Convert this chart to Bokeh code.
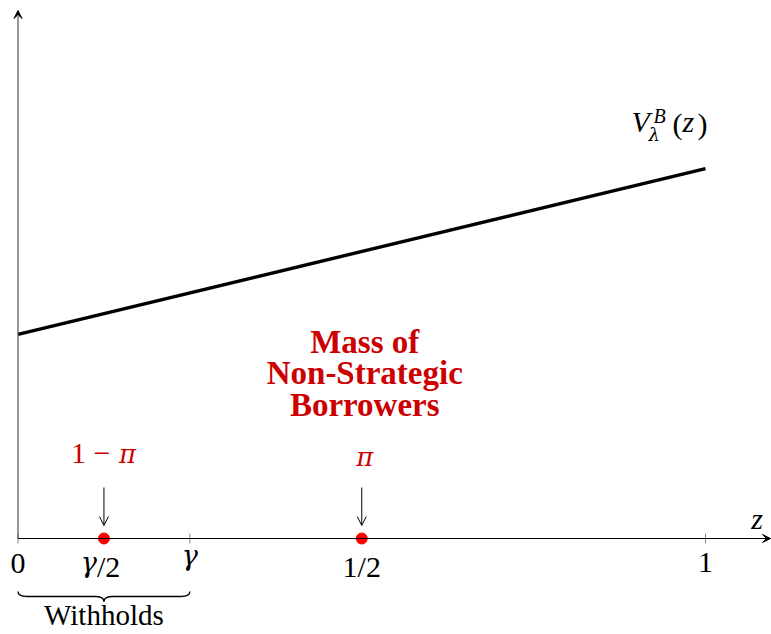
from bokeh.plotting import figure
from bokeh.models import Range1d, Arrow, VeeHead, OpenHead
from bokeh.core.properties import value
from bokeh.embed import file_html
from bokeh.resources import INLINE

# Value function V_lambda^B(z): a straight line over z in [0, 1]
z_line = [0.0, 1.0]
v_line = [0.297, 0.538]

# Positions on the z axis
gamma = 0.25
tick_pos = [0.0, gamma / 2, gamma, 0.5, 1.0]
major_ticks = [0.0, gamma, 1.0]

# Masses of non-strategic borrowers and where they sit
mass_pos = [gamma / 2, 0.5]
mass_zero = [0.0, 0.0]

U = 687.5          # pixels per unit, both directions
X0, Y0 = 17.5, 538.0
W, H = 771, 634

SERIF = value("Liberation Serif")
GREEK = value("DejaVu Serif")
RED_TXT = "#cc0000"

p = figure(width=W, height=H, output_backend="svg", toolbar_location=None,
           x_range=Range1d(-X0 / U, (W - X0) / U),
           y_range=Range1d(-(H - Y0) / U, Y0 / U),
           min_border=0, min_border_left=0, min_border_right=0,
           min_border_top=0, min_border_bottom=0)
p.axis.visible = False
p.grid.visible = False
p.outline_line_color = None
p.background_fill_color = "white"
p.border_fill_color = "white"

# axes with arrow tips
p.add_layout(Arrow(x_start=0, y_start=0, x_end=(W - X0 - 1) / U, y_end=0,
                   line_color="black", line_width=1,
                   end=VeeHead(size=8, fill_color="black", line_color="black", line_width=1)))
p.add_layout(Arrow(x_start=0, y_start=0, x_end=0, y_end=(Y0 - 10) / U,
                   line_color="#555555", line_width=1.2,
                   end=VeeHead(size=8, fill_color="black", line_color="black", line_width=1)))

# small tick marks
p.scatter(major_ticks, [0] * len(major_ticks), marker="dash", size=10, angle=1.5708,
          line_color="#888888", line_width=1)

# the value function
p.line(z_line, v_line, line_color="black", line_width=3.4)

# red dots for the masses
p.scatter(mass_pos, mass_zero, size=11, color="#ff0000")

# arrows pointing to the masses
for xm in mass_pos:
    p.add_layout(Arrow(x_start=xm, y_start=51 / U, x_end=xm, y_end=13 / U,
                       line_color="black", line_width=1,
                       end=OpenHead(size=9, line_color="black", line_width=1)))


def txt(x, y, s, size, dx=0, dy=0, color="black", style="normal", align="center",
        font=SERIF):
    # dy is the wanted baseline offset in pixels (downwards)
    p.text(x=[x], y=[y], text=[s], x_offset=dx, y_offset=dy - 0.32 * size,
           text_font=font, text_font_size=f"{size}px", text_font_style=style,
           text_color=color, text_align=align, text_baseline="alphabetic")


# tick labels
txt(tick_pos[0], 0, "0", 30, dy=35)
txt(tick_pos[1], 0, "γ", 27, dx=-7, dy=33, style="italic", align="right", font=GREEK)
txt(tick_pos[1], 0, "/2", 30, dx=-7, dy=38, align="left")
txt(tick_pos[2], 0, "γ", 27, dy=26, style="italic", font=GREEK)
txt(tick_pos[3], 0, "1/2", 30, dy=38)
txt(tick_pos[4], 0, "1", 30, dy=34)
txt(1.075, 0, "z", 30, dy=-10, style="italic")

# brace under [0, gamma] with its label
yt, h, r = -53 / U, 10 / U, 9 / U
xm = gamma / 2
x0b, x1b = 0.0, gamma
p.quadratic(x0=[x0b, xm, xm, x1b], y0=[yt, yt - h, yt - h, yt],
            x1=[x0b + r, xm - r, xm + r, x1b - r], y1=[yt - h / 2] * 4,
            cx=[x0b, xm, xm, x1b], cy=[yt - h / 2] * 4,
            line_color="black", line_width=1.4)
p.segment(x0=[x0b + r, xm + r], y0=[yt - h / 2] * 2,
          x1=[xm - r, x1b - r], y1=[yt - h / 2] * 2,
          line_color="black", line_width=1.4)
txt(xm, 0, "Withholds", 29, dy=86)

# labels of the masses
txt(mass_pos[0], 0, "1 − ", 30, dx=14, dy=-76, color=RED_TXT, align="right")
txt(mass_pos[0], 0, "π", 26, dx=15, dy=-76, color=RED_TXT, style="italic", align="left",
    font=GREEK)
txt(mass_pos[1], 0, "π", 26, dx=3, dy=-73, color=RED_TXT, style="italic", font=GREEK)

# heading
for i, line in enumerate(["Mass of", "Non-Strategic", "Borrowers"]):
    txt(0.5, 0, line, 33, dx=3, dy=-186 + 31.5 * i, color=RED_TXT, style="bold")

# V_lambda^B(z)
vx = 1.0
txt(vx, v_line[1], "V", 30, dx=-74, dy=-38, style="italic", align="left")
txt(vx, v_line[1], "B", 20, dx=-52, dy=-46, style="italic", align="left")
txt(vx, v_line[1], "λ", 18, dx=-57, dy=-28, style="italic", align="left", font=GREEK)
txt(vx, v_line[1], "(", 30, dx=-33, dy=-36, align="left")
txt(vx, v_line[1], "z", 30, dx=-23, dy=-38, style="italic", align="left")
txt(vx, v_line[1], ")", 30, dx=-8, dy=-36, align="left")

open("out.html", "w").write(file_html(p, INLINE))
